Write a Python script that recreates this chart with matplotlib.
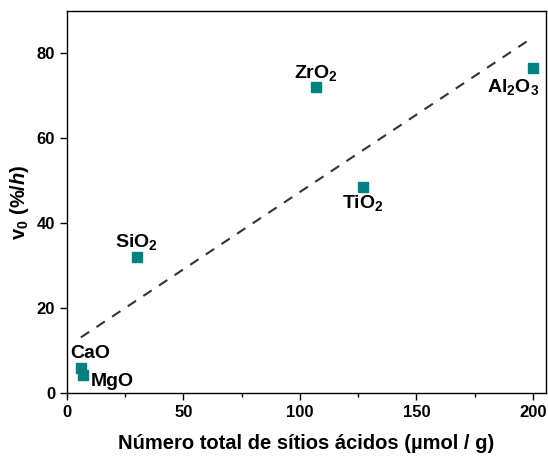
import numpy as np
import matplotlib
matplotlib.use('Agg')
import matplotlib.pyplot as plt
from matplotlib.ticker import MultipleLocator

plt.rcParams['font.family'] = ['Liberation Sans', 'DejaVu Sans']
plt.rcParams['font.weight'] = 'bold'
plt.rcParams['mathtext.fontset'] = 'custom'
plt.rcParams['mathtext.rm'] = 'Liberation Sans:bold'
plt.rcParams['mathtext.bf'] = 'Liberation Sans:bold'
plt.rcParams['mathtext.it'] = 'Liberation Sans:italic:bold'

# dados
catalisadores = ['CaO', 'MgO', 'SiO$_2$', 'ZrO$_2$', 'TiO$_2$', 'Al$_2$O$_3$']
sitios_acidos = [6, 7, 30, 107, 127, 200]
v0 = [6.0, 4.3, 32.0, 72.0, 48.5, 76.5]

x = np.array(sitios_acidos)
y = np.array(v0)

fig = plt.figure(figsize=(5.48, 4.57), dpi=100)
ax = fig.add_axes([0.122, 0.14, 0.874, 0.836])

# ajuste linear
a, b = np.polyfit(x, y, 1)
xf = np.array([x.min(), x.max()])
ax.plot(xf, a * xf + b, '--', color='#333333', lw=1.5, dashes=(4.8, 4.2))

ax.plot(x, y, 's', color='#008080', ms=6.8, ls='none')

# rótulos (deslocamento em pontos)
offsets = {
    'CaO': (7, 7, 'center'),
    'MgO': (5.3, -8, 'left'),
    'SiO$_2$': (0, 7, 'center'),
    'ZrO$_2$': (0, 7, 'center'),
    'TiO$_2$': (0, -15, 'center'),
    'Al$_2$O$_3$': (4.5, -17, 'right'),
}
for nome, xi, yi in zip(catalisadores, x, y):
    dx, dy, ha = offsets[nome]
    ax.annotate(nome, (xi, yi), xytext=(dx, dy), textcoords='offset points',
                ha=ha, va='baseline', fontsize=14, fontweight='bold')

ax.set_xlim(0, 205.5)
ax.set_ylim(0, 90)
ax.xaxis.set_major_locator(MultipleLocator(50))
ax.xaxis.set_minor_locator(MultipleLocator(25))
ax.yaxis.set_major_locator(MultipleLocator(20))
ax.tick_params(axis='both', which='major', direction='out', length=5, width=1, labelsize=12)
ax.tick_params(axis='both', which='minor', direction='out', length=3, width=1)
for s in ax.spines.values():
    s.set_linewidth(1)

ax.set_xlabel('Número total de sítios ácidos (µmol / g)', fontsize=14.5, fontweight='bold', labelpad=10)
ax.set_ylabel('v$_0$ (%/$\\mathit{h}$)', fontsize=14.5, fontweight='bold', labelpad=4)

fig.savefig('out.png', dpi=100)
